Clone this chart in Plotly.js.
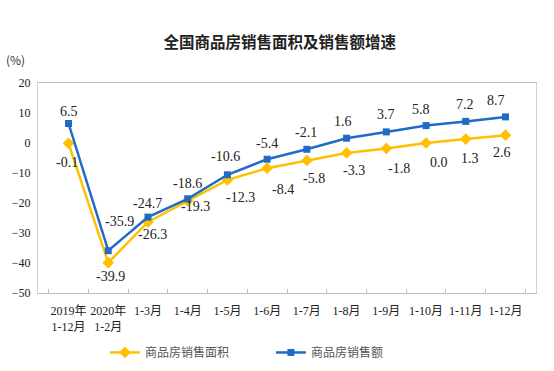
<!DOCTYPE html>
<html>
<head>
<meta charset="utf-8">
<script src="https://cdn.plot.ly/plotly-3.0.1.min.js"></script>
<style>html,body{margin:0;padding:0;background:#fff;}#chart{width:554px;height:371px;}</style>
</head>
<body>
<div id="chart"></div>
<script>
var categories = ["2019年<br>1-12月", "2020年<br>1-2月", "1-3月", "1-4月", "1-5月", "1-6月", "1-7月", "1-8月", "1-9月", "1-10月", "1-11月", "1-12月"];
var areaGrowth = [-0.1, -39.9, -26.3, -19.3, -12.3, -8.4, -5.8, -3.3, -1.8, 0.0, 1.3, 2.6];
var salesGrowth = [6.5, -35.9, -24.7, -18.6, -10.6, -5.4, -2.1, 1.6, 3.7, 5.8, 7.2, 8.7];
var areaName = "商品房销售面积";
var salesName = "商品房销售额";
var titleText = "全国商品房销售面积及销售额增速";
var unitText = "(%)";

// label offsets in pixels (layout only)
var areaLabelDx = [-2, 2, 5, 8, 13, 16, 7, 7, 13, 13, 4, -3];
var areaLabelDy = [-19, -14, -13, -6, -18, -21, -18, -18, -20, -19, -19, -17];
var salesLabelDx = [0, 11, 0, 0, -2, 0, -1, -4, 0, -5, -1, -9];
var salesLabelDy = [12, 29, 14, 15, 18, 16, 17, 17, 17, 16, 17, 16];

var serif = "Liberation Serif, Times New Roman, Noto Sans CJK SC, serif";
var cjk = "Noto Sans CJK SC, sans-serif";

var traces = [
  {
    x: categories, y: areaGrowth, name: areaName, type: "scatter", mode: "lines+markers",
    line: {color: "#FFC000", width: 2.5},
    marker: {symbol: "diamond", size: 9, color: "#FFC000"},
    cliponaxis: false
  },
  {
    x: categories, y: salesGrowth, name: salesName, type: "scatter", mode: "lines+markers",
    line: {color: "#1F6BC6", width: 2.5},
    marker: {symbol: "square", size: 7, color: "#1F6BC6"},
    cliponaxis: false
  }
];

var annotations = [
  {text: unitText, xref: "paper", yref: "paper", x: -0.068, y: 1.11, xanchor: "left", yanchor: "middle", showarrow: false,
   font: {family: cjk, size: 12, color: "#333"}}
];
function addLabels(vals, dx, dy) {
  vals.forEach(function(v, i) {
    annotations.push({
      x: categories[i], y: v, xref: "x", yref: "y", text: v.toFixed(1), showarrow: false,
      xanchor: "center", yanchor: "middle", xshift: dx[i], yshift: dy[i],
      font: {family: serif, size: 14, color: "#222"}
    });
  });
}
addLabels(areaGrowth, areaLabelDx, areaLabelDy);
addLabels(salesGrowth, salesLabelDx, salesLabelDy);

var layout = {
  width: 554, height: 371,
  margin: {l: 38, r: 18, t: 83, b: 78},
  paper_bgcolor: "#fff", plot_bgcolor: "#fff",
  showlegend: true,
  title: {text: titleText, font: {family: cjk, size: 15.5, color: "#222", weight: "bold"}, x: 0.505, xref: "container", y: 0.885, yref: "container", yanchor: "middle"},
  xaxis: {
    type: "category", tickson: "boundaries", ticks: "inside", ticklen: 4, tickcolor: "#bfbfbf",
    showline: true, linecolor: "#bfbfbf", linewidth: 1, mirror: true, showgrid: false,
    tickfont: {family: serif, size: 12, color: "#222"}, tickangle: 0, ticklabelstandoff: 7
  },
  yaxis: {
    range: [-50, 20], dtick: 10, tick0: 0, showgrid: false, zeroline: false,
    showline: true, linecolor: "#d0d0d0", linewidth: 1, mirror: true, ticks: "",
    tickfont: {family: serif, size: 12, color: "#222"}, ticklabelstandoff: 4
  },
  legend: {
    orientation: "h", x: 0.489, xref: "container", xanchor: "center", y: 0.05, yref: "container", yanchor: "middle",
    font: {family: cjk, size: 12, color: "#555"}, itemwidth: 30, entrywidth: 121
  },
  annotations: annotations
};

Plotly.newPlot("chart", traces, layout, {displayModeBar: false, staticPlot: true});
</script>
</body>
</html>
